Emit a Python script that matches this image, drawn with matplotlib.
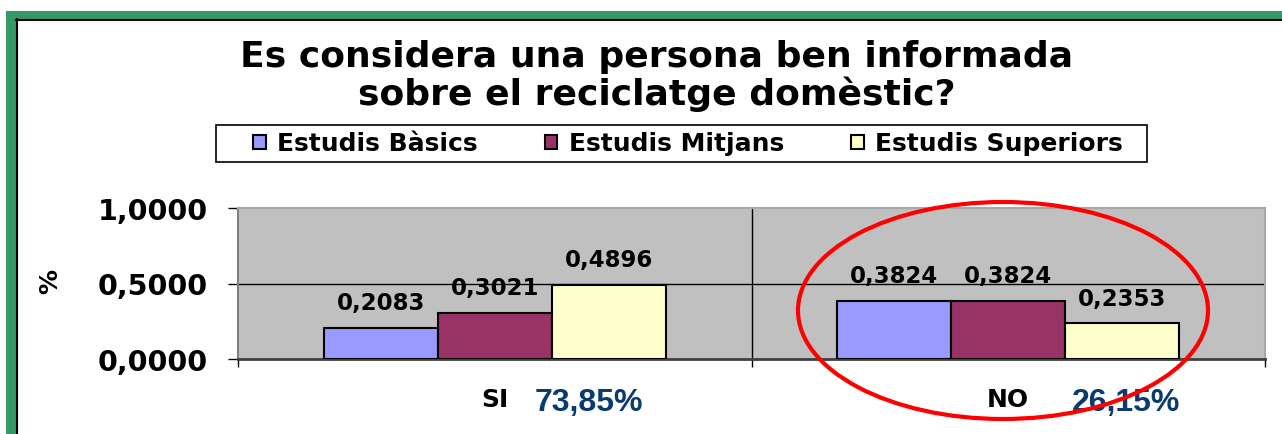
import matplotlib
matplotlib.use("Agg")
import matplotlib.pyplot as plt
from matplotlib.patches import Rectangle, Ellipse
from matplotlib.lines import Line2D
import numpy as np

# ---- data ----
categories = ["SI", "NO"]
series_names = ["Estudis Bàsics", "Estudis Mitjans", "Estudis Superiors"]
basics = [0.2083, 0.3824]
mitjans = [0.3021, 0.3824]
superiors = [0.4896, 0.2353]
totals = ["73,85%", "26,15%"]
ytick_values = [0.0, 0.5, 1.0]
ytick_labels = ["0,0000", "0,5000", "1,0000"]
title = "Es considera una persona ben informada\nsobre el reciclatge domèstic?"

colors = ["#9999FF", "#993366", "#FFFFCC"]

W, H = 1282, 435
fig = plt.figure(figsize=(W / 100, H / 100), dpi=100)
fig.patch.set_facecolor("white")

def px(x0, y0, x1, y1):
    # pixel box (top-left origin) -> figure fraction rect
    return (x0 / W, 1 - y1 / H, (x1 - x0) / W, (y1 - y0) / H)

# green frame
gx, gy, gw, gh = px(6, 12, 1300, 460)
fig.patches.append(Rectangle((gx, gy), gw, gh, transform=fig.transFigure,
                             facecolor="#339966", edgecolor="none", zorder=0))
ix, iy, iw, ih = px(16, 20, 1300, 460)
fig.patches.append(Rectangle((ix, iy), iw, ih, transform=fig.transFigure,
                             facecolor="white", edgecolor="none", zorder=0.1))
fig.lines.append(Line2D([16.8 / W, 16.8 / W], [0, 1 - 20 / H], transform=fig.transFigure,
                        color="black", lw=1.5, zorder=0.2))
fig.lines.append(Line2D([16 / W, 1], [1 - 20.8 / H, 1 - 20.8 / H], transform=fig.transFigure,
                        color="black", lw=1.5, zorder=0.2))

ax = fig.add_axes(px(238, 209, 1265, 360))
ax.set_zorder(1)
ax.set_facecolor("#C0C0C0")

x = np.arange(len(categories))
bw = 0.222
series = [basics, mitjans, superiors]
for i, (vals, name, c) in enumerate(zip(series, series_names, colors)):
    pos = x + (i - 1) * bw
    ax.bar(pos, vals, width=bw, color=c, edgecolor="black", linewidth=1.5,
           label=name, zorder=3)
    for xp, v in zip(pos, vals):
        ax.annotate(f"{v:.4f}".replace(".", ","), (xp, v), xytext=(0, 10),
                    textcoords="offset points", ha="center", va="bottom",
                    fontsize=16.5, fontweight="bold", family="DejaVu Sans", zorder=4)

ax.set_xlim(-0.5, 1.5)
ax.set_ylim(0, 1)
ax.axhline(0.5, color="black", lw=1, zorder=1)
ax.axvline(0.5, color="black", lw=1, zorder=1)

ax.set_yticks(ytick_values)
ax.set_yticklabels(ytick_labels, fontsize=20.5, fontweight="bold", family="DejaVu Sans")
ax.tick_params(axis="y", length=7, width=1, pad=15, color="black")

ax.set_xticks([-0.5, 0.5, 1.5])
ax.set_xticklabels([])
ax.tick_params(axis="x", which="major", length=6, width=1, color="black")
ax.set_xticks(x, minor=True)
ax.set_xticklabels(categories, minor=True, fontsize=18, fontweight="bold", family="DejaVu Sans")
ax.tick_params(axis="x", which="minor", length=0, pad=20)

for s in ["top", "right"]:
    ax.spines[s].set_color("#A8A8A8")
    ax.spines[s].set_linewidth(1.5)
ax.spines["left"].set_color("#808080")
ax.spines["left"].set_linewidth(1.5)
ax.spines["bottom"].set_color("#404040")
ax.spines["bottom"].set_linewidth(2)

fig.text(50 / W, 1 - 281 / H, "%", rotation=90, ha="center", va="center",
         fontsize=18, fontweight="bold", family="DejaVu Sans")

# title
fig.text(657 / W, 1 - 76 / H, title, ha="center", va="center", fontsize=26,
         fontweight="bold", family="DejaVu Sans", linespacing=1.1)

# legend (frame drawn separately so that its margins match)
lx, ly, lw_, lh = px(216, 126, 1147, 163)
fig.patches.append(Rectangle((lx, ly), lw_, lh, transform=fig.transFigure,
                             facecolor="white", edgecolor="black", linewidth=1.2,
                             zorder=4))
leg = fig.legend(loc="center", bbox_to_anchor=(688 / W, 1 - 144.5 / H), ncol=3,
                 frameon=False,
                 prop={"family": "DejaVu Sans", "weight": "bold", "size": 18},
                 handlelength=0.5, handleheight=0.5, handletextpad=0.45,
                 columnspacing=2.7, borderpad=0.25, borderaxespad=0)
leg.set_zorder(5)

# totals in blue
for xc, t in zip([589, 1126], totals):
    fig.text(xc / W, 1 - 403 / H, t, ha="center", va="center", fontsize=23,
             fontweight="bold", family="Liberation Sans", color="#0A3A70", zorder=6)

# red ellipse
fig.patches.append(Ellipse((1003 / W, 1 - 311.5 / H), 410 / W, 217 / H,
                           transform=fig.transFigure, facecolor="none",
                           edgecolor="#FF0000", linewidth=3, zorder=10))

fig.savefig("out.png", dpi=100)
